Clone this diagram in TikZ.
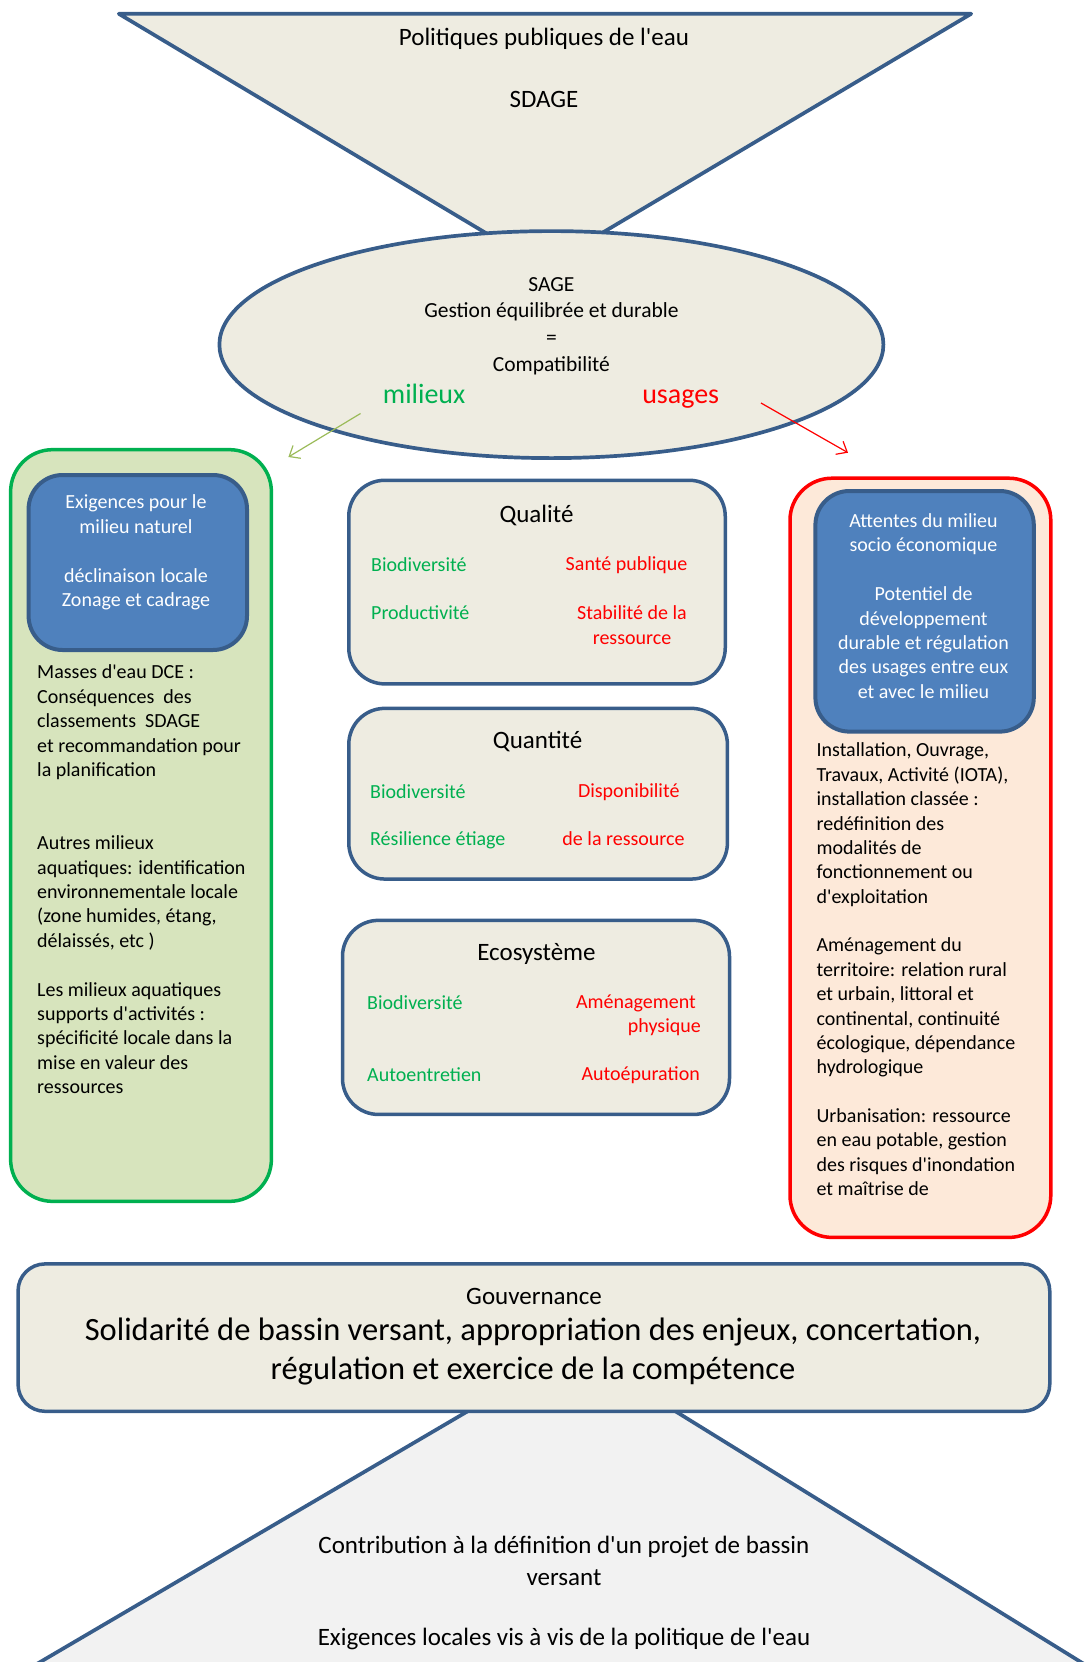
\documentclass[tikz,border=0pt]{standalone}
\usepackage{fontspec}
\setmainfont{Carlito}
\usepackage{xcolor}
\usepackage{tikz}
\usetikzlibrary{shapes.geometric,arrows.meta}
\definecolor{bordblue}{HTML}{385D8A}
\definecolor{tanfill}{HTML}{EEECE1}
\definecolor{boxblue}{HTML}{4F81BD}
\definecolor{leafgreen}{HTML}{00B050}
\definecolor{palegreen}{HTML}{D7E4BD}
\definecolor{palepink}{HTML}{FDE9D9}
\definecolor{olivegreen}{HTML}{9BBB59}
\definecolor{lightgrey}{HTML}{F2F2F2}
\newcommand{\ap}{\textquotesingle}

\begin{document}
\begin{tikzpicture}[x=1pt,y=-1pt,line join=round,
    tanbox/.style={draw=bordblue,line width=3.5pt,fill=tanfill,rounded corners=36pt},
    bluebox/.style={draw=bordblue,line width=4pt,fill=boxblue,rounded corners=34pt},
    greenframe/.style={draw=leafgreen,line width=3.5pt,fill=palegreen,rounded corners=42pt},
    redframe/.style={draw=red,line width=3.5pt,fill=palepink,rounded corners=42pt},
    body/.style={inner sep=0pt,font=\fontsize{20}{24.4}\selectfont},
    title/.style={inner sep=0pt,font=\fontsize{25}{30}\selectfont},
    good/.style={body,text=leafgreen},
    bad/.style={body,text=red}]

    \useasboundingbox (0,0) rectangle (1091,1662);

    % entonnoir du haut
    \coordinate (pa) at (118.8,13.8);
    \coordinate (pb) at (971.2,13.8);
    \coordinate (pc) at (543.7,267.6);
    \draw[draw=bordblue,line width=3.7pt,fill=tanfill] (pa)--(pb)--(pc)--cycle;
    \node[title] (t1) at (544,39) {Politiques publiques de l\ap eau};
    \node[title] (t2) at (544,99.5) {SDAGE};

    % SAGE
    \node[ellipse,draw=bordblue,line width=3.7pt,fill=tanfill,
          minimum width=664pt,minimum height=227pt] (sage) at (551.4,344.6) {};
    \node[body,font=\fontsize{21.5}{26.8}\selectfont,align=center] (s1) at (551.4,326)
        {SAGE\\Gestion équilibrée et durable\\=\\Compatibilité};
    \node[inner sep=0pt,anchor=base,font=\fontsize{28}{32}\selectfont,text=leafgreen] (mil) at (424.1,403) {milieux};
    \node[inner sep=0pt,anchor=base,font=\fontsize{28}{32}\selectfont,text=red] (usa) at (680.7,403) {usages};

    \coordinate (ga) at (360.5,413.5);
    \coordinate (gb) at (288.4,457);
    \coordinate (ra) at (761,403);
    \coordinate (rb) at (848,452.7);
    \draw[olivegreen,line width=1.2pt,-{Straight Barb[length=9pt,width=15pt]}] (ga)--(gb);
    \draw[red,line width=1.2pt,-{Straight Barb[length=9pt,width=15pt]}] (ra)--(rb);

    % milieux
    \node[greenframe,minimum width=260.8pt,minimum height=751.7pt] (g) at (141,825.5) {};
    \node[bluebox,minimum width=218.4pt,minimum height=175pt] (gb1) at (137.8,562.5) {};
    \node[body,text=white,align=center] (gt1) at (136,552.5)
        {Exigences pour le\\milieu naturel\\[24.4pt]déclinaison locale\\Zonage et cadrage};
    \node[body,align=left,anchor=west] (gt2) at (37,879.5)
        {Masses d\ap eau DCE :\\Conséquences~ des\\classements~ SDAGE\\et recommandation pour\\la planification\\[48.8pt]%
         Autres milieux\\aquatiques: identification\\environnementale locale\\(zone humides, étang,\\délaissés, etc )\\[24.4pt]%
         Les milieux aquatiques\\supports d\ap activités :\\spécificité locale dans la\\mise en valeur des\\ressources};

    % qualite
    \node[tanbox,minimum width=376.5pt,minimum height=203.6pt] (q) at (537,582.1) {};
    \node[title] (q0) at (536.5,515) {Qualité};
    \node[good,anchor=west] (q1) at (371,565) {Biodiversité};
    \node[bad] (q2) at (626.6,565) {Santé publique};
    \node[good,anchor=west] (q3) at (371,613) {Productivité};
    \node[bad,align=center] (q4) at (632,625) {Stabilité de la\\ressource};

    % quantite
    \node[tanbox,minimum width=378.6pt,minimum height=170.7pt] (n) at (538.1,793.7) {};
    \node[title] (n0) at (537.6,742) {Quantité};
    \node[good,anchor=west] (n1) at (370,792) {Biodiversité};
    \node[bad] (n2) at (628.8,792) {Disponibilité};
    \node[good,anchor=west] (n3) at (370,840) {Résilience étiage};
    \node[bad] (n4) at (623.5,839) {de la ressource};

    % ecosysteme
    \node[tanbox,minimum width=387pt,minimum height=194.1pt] (e) at (536,1017.4) {};
    \node[title] (e0) at (536.5,954) {Ecosystème};
    \node[good,anchor=west] (e1) at (367,1003) {Biodiversité};
    \node[bad,align=right,anchor=east] (e2) at (701,1015) {Aménagement\kern5pt\\physique};
    \node[good,anchor=west] (e3) at (367,1075) {Autoentretien};
    \node[bad,anchor=east] (e4) at (700,1075) {Autoépuration};

    % usages
    \node[redframe,minimum width=260.8pt,minimum height=759.2pt] (r) at (920.4,857.8) {};
    \node[bluebox,minimum width=218.4pt,minimum height=240.6pt] (rb1) at (924.6,611.3) {};
    \node[body,text=white,align=center] (rt1) at (923.5,606)
        {Attentes du milieu\\socio économique\\[24.4pt]Potentiel de\\développement\\durable et régulation\\des usages entre eux\\et avec le milieu};
    \node[body,align=left,anchor=west] (rt2) at (816.4,969.5)
        {Installation, Ouvrage,\\Travaux, Activité (IOTA),\\installation classée :\\redéfinition des\\modalités de\\fonctionnement ou\\d\ap exploitation\\[24.2pt]%
         Aménagement du\\territoire: relation rural\\et urbain, littoral et\\continental, continuité\\écologique, dépendance\\hydrologique\\[24.2pt]%
         Urbanisation: ressource\\en eau potable, gestion\\des risques d\ap inondation\\et maîtrise de};

    % pyramide du bas
    \coordinate (ba) at (574.3,1348.7);
    \coordinate (bb) at (-24.6,1700);
    \coordinate (bc) at (1142.2,1700);
    \draw[draw=bordblue,line width=3.7pt,fill=lightgrey] (ba)--(bb)--(bc)--cycle;
    \node[body,font=\fontsize{25}{31.8}\selectfont,align=center] (b1) at (564,1593)
        {Contribution à la définition d\ap un projet de bassin\\versant\\[28.6pt]Exigences locales vis à vis de la politique de l\ap eau};

    % gouvernance
    \node[tanbox,rounded corners=27pt,minimum width=1031.7pt,minimum height=147.4pt] (gv) at (533.9,1337.6) {};
    \node[body,font=\fontsize{25}{30}\selectfont] (gv0) at (534,1296) {Gouvernance};
    \node[body,font=\fontsize{32.5}{39}\selectfont,align=center] (gv1) at (533,1351)
        {Solidarité de bassin versant, appropriation des enjeux, concertation,\\régulation et exercice de la compétence};

\end{tikzpicture}
\end{document}
